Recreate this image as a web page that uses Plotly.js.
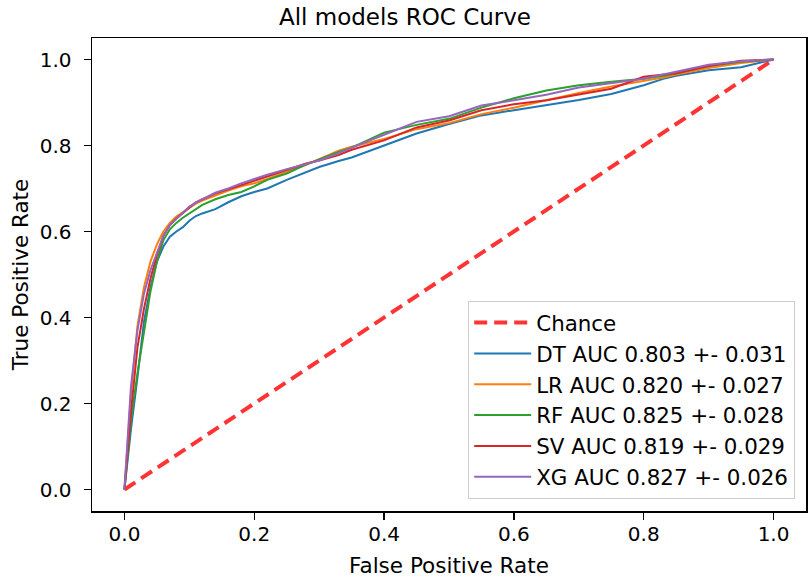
<!DOCTYPE html>
<html>
<head>
<meta charset="utf-8">
<script src="https://cdn.plot.ly/plotly-3.0.1.min.js"></script>
<style>html,body{margin:0;padding:0;background:#fff;}#chart{width:810px;height:578px;}</style>
</head>
<body>
<div id="chart"></div>
<script>
const fpr = [0, 0.005, 0.01, 0.02, 0.03, 0.04, 0.05, 0.06, 0.07, 0.08, 0.09, 0.1, 0.11, 0.12, 0.14, 0.16, 0.18, 0.2, 0.22, 0.25, 0.28, 0.3, 0.33, 0.35, 0.4, 0.45, 0.5, 0.55, 0.6, 0.65, 0.7, 0.75, 0.8, 0.83, 0.85, 0.9, 0.95, 1.0];
const tprDT = [0, 0.07, 0.14, 0.26, 0.39, 0.47, 0.53, 0.565, 0.588, 0.600, 0.610, 0.625, 0.636, 0.642, 0.652, 0.668, 0.682, 0.692, 0.700, 0.720, 0.738, 0.750, 0.764, 0.772, 0.800, 0.828, 0.850, 0.870, 0.882, 0.894, 0.906, 0.920, 0.940, 0.955, 0.962, 0.975, 0.982, 1.0];
const tprLR = [0, 0.12, 0.22, 0.38, 0.47, 0.53, 0.57, 0.60, 0.62, 0.635, 0.645, 0.655, 0.665, 0.672, 0.684, 0.695, 0.705, 0.712, 0.722, 0.738, 0.755, 0.768, 0.788, 0.797, 0.815, 0.838, 0.852, 0.873, 0.888, 0.905, 0.922, 0.937, 0.950, 0.958, 0.965, 0.980, 0.992, 1.0];
const tprRF = [0, 0.09, 0.16, 0.27, 0.37, 0.46, 0.53, 0.58, 0.605, 0.62, 0.632, 0.642, 0.652, 0.662, 0.675, 0.685, 0.692, 0.705, 0.720, 0.735, 0.756, 0.768, 0.785, 0.795, 0.830, 0.848, 0.862, 0.888, 0.910, 0.928, 0.940, 0.948, 0.955, 0.962, 0.968, 0.985, 0.995, 1.0];
const tprSV = [0, 0.10, 0.18, 0.33, 0.42, 0.49, 0.545, 0.59, 0.615, 0.63, 0.642, 0.655, 0.668, 0.675, 0.688, 0.698, 0.708, 0.718, 0.728, 0.742, 0.758, 0.765, 0.778, 0.790, 0.812, 0.842, 0.858, 0.882, 0.896, 0.905, 0.918, 0.932, 0.960, 0.964, 0.968, 0.985, 0.997, 1.0];
const tprXG = [0, 0.13, 0.24, 0.37, 0.455, 0.51, 0.55, 0.59, 0.615, 0.63, 0.645, 0.658, 0.667, 0.675, 0.690, 0.700, 0.712, 0.722, 0.732, 0.745, 0.757, 0.765, 0.782, 0.795, 0.825, 0.855, 0.868, 0.893, 0.905, 0.918, 0.935, 0.945, 0.955, 0.965, 0.972, 0.988, 0.996, 1.0];
const chanceX = [0, 1];
const chanceY = [0, 1];
const names = ["DT AUC 0.803 +- 0.031", "LR AUC 0.820 +- 0.027", "RF AUC 0.825 +- 0.028", "SV AUC 0.819 +- 0.029", "XG AUC 0.827 +- 0.026"];
const colors = ["#1f77b4", "#ff7f0e", "#2ca02c", "#d62728", "#9467bd"];
const series = [tprDT, tprLR, tprRF, tprSV, tprXG];
const tickVals = [0, 0.2, 0.4, 0.6, 0.8, 1.0];
const tickText = ["0.0", "0.2", "0.4", "0.6", "0.8", "1.0"];

const traces = [{
  x: chanceX, y: chanceY, mode: "lines", name: "Chance", legendgroup: "g0",
  line: {color: "rgba(255,0,0,0.8)", width: 4, dash: "13px,7px"}
}];
series.forEach((s, i) => {
  traces.push({x: fpr, y: s, mode: "lines", name: names[i], legendgroup: "g" + (i + 1),
    line: {color: colors[i], width: 2}});
});

const fam = "DejaVu Sans, sans-serif";
const tickFont = {family: fam, size: 20, color: "#000"};
const labFont = {family: fam, size: 21.5, color: "#000"};
const axisCommon = {
  range: [-0.05, 1.05], tickvals: tickVals, ticktext: tickText,
  showgrid: false, zeroline: false, showline: true, mirror: true, linecolor: "#000", linewidth: 1.5,
  ticks: "outside", ticklen: 7, tickwidth: 1.3, tickcolor: "#000", tickfont: tickFont
};
const layout = {
  width: 810, height: 578,
  margin: {l: 92, r: 4, t: 38, b: 67, pad: 0},
  paper_bgcolor: "#fff", plot_bgcolor: "#fff",
  font: {family: fam, size: 20, color: "#000"},
  title: {text: "All models ROC Curve", font: {family: fam, size: 23, color: "#000"}, x: 0.5, xanchor: "center", y: 1 - 17 / 578, yanchor: "middle", yref: "container"},
  xaxis: Object.assign({}, axisCommon, {ticklabelstandoff: -3, title: {text: "False Positive Rate", font: labFont, standoff: 18}}),
  yaxis: Object.assign({}, axisCommon, {ticklabelstandoff: 8, title: {text: "True Positive Rate", font: labFont, standoff: 5}}),
  showlegend: true,
  legend: {x: 0.9846, xanchor: "right", y: 0.0254, yanchor: "bottom", bgcolor: "rgba(255,255,255,0.8)",
    bordercolor: "#cccccc", borderwidth: 1.2, font: {family: fam, size: 21.4, color: "#000"},
    tracegroupgap: 2.5, traceorder: "normal", itemwidth: 57}
};
Plotly.newPlot("chart", traces, layout, {staticPlot: true, displayModeBar: false});
</script>
</body>
</html>
